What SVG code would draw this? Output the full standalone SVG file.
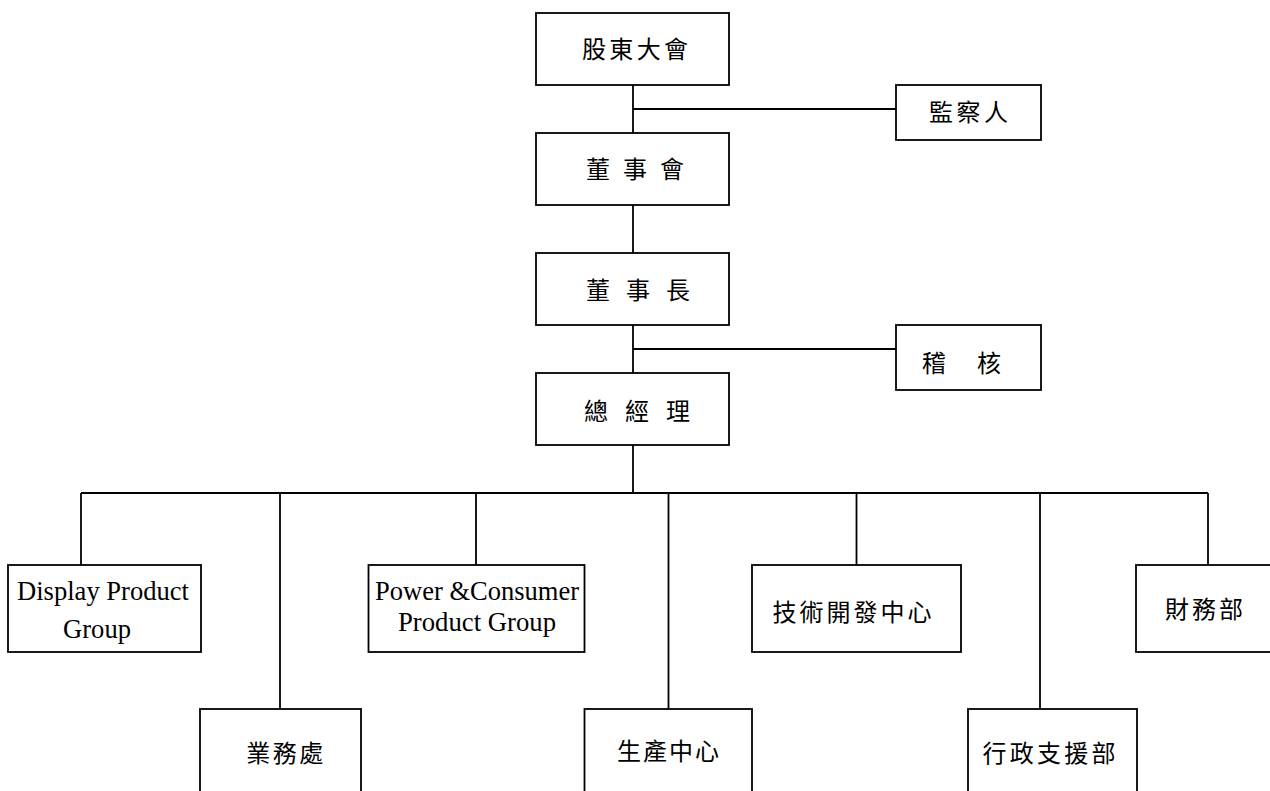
<svg xmlns="http://www.w3.org/2000/svg" width="1270" height="791" viewBox="0 0 1270 791">
<style>
.box{fill:#fff;stroke:#000;stroke-width:1.8}
.ln{stroke:#000;stroke-width:1.8;fill:none}
.zh{font-family:"Noto Sans CJK TC","Noto Sans CJK SC",sans-serif;font-size:24px;fill:#000;text-anchor:middle}
.en{font-family:"Liberation Serif","Times New Roman",serif;font-size:27px;fill:#000;text-anchor:middle}
</style>
<rect width="1270" height="791" fill="#fff"/>
<g id="connectors">
<path class="ln" d="M633 85V133M633 205V253M633 325V373M633 445V493"/>
<path class="ln" d="M633 109H896M633 349H896"/>
<path class="ln" d="M81 493H1208"/>
<path class="ln" d="M81 493V565M280 493V709M476 493V565M668.5 493V709M856.5 493V565M1040 493V709M1208 493V565"/>
</g>
<g id="n-shareholders"><rect class="box" x="536" y="13" width="193" height="72"/><text class="zh" x="635" y="58" textLength="106">股東大會</text></g>
<g id="n-supervisor"><rect class="box" x="896" y="85" width="145" height="55"/><text class="zh" x="968.5" y="121" textLength="79">監察人</text></g>
<g id="n-board"><rect class="box" x="536" y="133" width="193" height="72"/><text class="zh" x="635" y="178" textLength="98">董 事 會</text></g>
<g id="n-chairman"><rect class="box" x="536" y="253" width="193" height="72"/><text class="zh" x="638" y="299" textLength="104">董 事 長</text></g>
<g id="n-audit"><rect class="box" x="896" y="325" width="145" height="65"/><text class="zh" x="961.5" y="372" textLength="79">稽　核</text></g>
<g id="n-gm"><rect class="box" x="536" y="373" width="193" height="72"/><text class="zh" x="637" y="420" textLength="106">總 經 理</text></g>
<g id="n-display"><rect class="box" x="8" y="565" width="193" height="87"/><text class="en" x="103" y="600" textLength="172" lengthAdjust="spacingAndGlyphs">Display Product</text><text class="en" x="97" y="638" textLength="68" lengthAdjust="spacingAndGlyphs">Group</text></g>
<g id="n-sales"><rect class="box" x="200" y="709" width="161" height="100"/><text class="zh" x="284.7" y="762" textLength="77">業務處</text></g>
<g id="n-power"><rect class="box" x="368.5" y="565" width="216" height="87"/><text class="en" x="477" y="600" textLength="204" lengthAdjust="spacingAndGlyphs">Power &amp;Consumer</text><text class="en" x="477" y="631" textLength="158" lengthAdjust="spacingAndGlyphs">Product Group</text></g>
<g id="n-production"><rect class="box" x="584.5" y="709" width="167.5" height="100"/><text class="zh" x="668" y="760" textLength="102">生產中心</text></g>
<g id="n-rd"><rect class="box" x="752" y="565" width="209" height="87"/><text class="zh" x="852" y="621" textLength="159">技術開發中心</text></g>
<g id="n-admin"><rect class="box" x="968" y="709" width="169" height="100"/><text class="zh" x="1049" y="762" textLength="133">行政支援部</text></g>
<g id="n-finance"><rect class="box" x="1136" y="565" width="144" height="87"/><text class="zh" x="1204" y="618" textLength="78">財務部</text></g>
</svg>
